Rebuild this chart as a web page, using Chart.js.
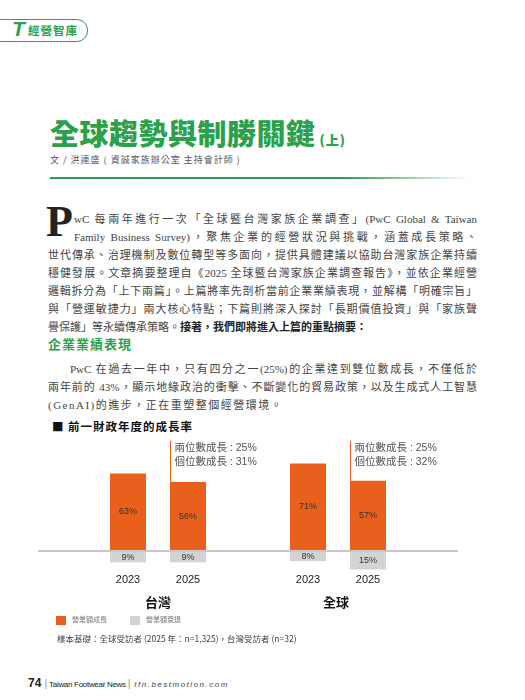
<!DOCTYPE html>
<html><head><meta charset="utf-8">
<script src="https://cdn.jsdelivr.net/npm/chart.js@4"></script>
<style>
body{margin:0;width:525px;height:700px;position:relative;background:#fff;font-family:"Noto Sans CJK TC","Noto Sans",sans-serif;overflow:hidden}
.a{position:absolute;white-space:nowrap}
.ln{position:absolute;left:48px;width:429px;font-size:11px;color:#444;text-align:justify;text-align-last:justify;letter-spacing:0;line-height:18px;font-family:"Liberation Serif","Noto Sans CJK TC",serif}
</style></head><body>
<div class="a" style="left:-10px;top:19px;width:96px;height:21px;border:1.5px solid #2aa14a;border-radius:11px;"></div>
<div class="a" style="left:12px;top:17px;font-size:21px;font-weight:900;color:#2aa14a;font-style:italic;font-family:'Liberation Sans'">T</div>
<div class="a" style="left:28px;top:22px;font-size:11.5px;font-weight:bold;color:#2aa14a;letter-spacing:1px">經營智庫</div>
<div class="a" style="left:50px;top:111px;font-size:29px;font-weight:900;color:#2aa14a;letter-spacing:0.5px">全球趨勢與制勝關鍵<span style="font-size:13px;letter-spacing:1px"> (上)</span></div>
<div class="a" style="left:50px;top:153px;font-size:9px;color:#555;letter-spacing:1px">文 / 洪連盛 ( 資誠家族辦公室 主持會計師 )</div>
<div class="a" style="left:50px;top:177px;width:420px;height:2px;background:linear-gradient(90deg,#2aa14a 70%,#fff)"></div>
<div class="a" style="left:46px;top:196px;font-size:44px;font-weight:bold;color:#222;font-family:'Liberation Serif'">P</div>
<div class="ln" style="top:210px;left:74px;width:403px">wC 每兩年進行一次「全球暨台灣家族企業調查」(PwC Global &amp; Taiwan</div>
<div class="ln" style="top:228px;left:74px;width:403px">Family Business Survey)，聚焦企業的經營狀況與挑戰，涵蓋成長策略、</div>
<div class="ln" style="top:246px">世代傳承、治理機制及數位轉型等多面向，提供具體建議以協助台灣家族企業持續</div>
<div class="ln" style="top:264px">穩健發展。文章摘要整理自《2025 全球暨台灣家族企業調查報告》，並依企業經營</div>
<div class="ln" style="top:282px">邏輯拆分為「上下兩篇」。上篇將率先剖析當前企業業績表現，並解構「明確宗旨」</div>
<div class="ln" style="top:300px">與「營運敏捷力」兩大核心特點；下篇則將深入探討「長期價值投資」與「家族聲</div>
<div class="ln" style="top:318px;text-align-last:left">譽保護」等永續傳承策略。<b style="color:#222">接著，我們即將進入上篇的重點摘要：</b></div>
<div class="a" style="left:48px;top:334px;font-size:13px;font-weight:bold;color:#2aa14a;letter-spacing:1px">企業業績表現</div>
<div class="ln" style="top:360px;left:70px;width:407px">PwC 在過去一年中，只有四分之一(25%)的企業達到雙位數成長，不僅低於</div>
<div class="ln" style="top:378px">兩年前的 43%，顯示地緣政治的衝擊、不斷變化的貿易政策，以及生成式人工智慧</div>
<div class="ln" style="top:396px;text-align-last:left;letter-spacing:1.5px">(GenAI)的進步，正在重塑整個經營環境。</div>
<div class="a" style="left:52px;top:418px;font-size:11.5px;font-weight:bold;color:#111;letter-spacing:1px">■ 前一財政年度的成長率</div>
<div class="a" style="left:38px;top:434px;width:420px;height:170px"><canvas id="c"></canvas></div>
<div class="a" style="left:145px;top:592px;font-size:13px;font-weight:bold;color:#111">台灣</div>
<div class="a" style="left:323px;top:592px;font-size:13px;font-weight:bold;color:#111">全球</div>
<div class="a" style="left:56px;top:616px;width:10px;height:9px;background:#e8601c"></div>
<div class="a" style="left:72px;top:614px;font-size:7px;color:#777">營業額成長</div>
<div class="a" style="left:130px;top:616px;width:10px;height:9px;background:#d3d3d3"></div>
<div class="a" style="left:146px;top:614px;font-size:7px;color:#777">營業額衰退</div>
<div class="a" style="left:57px;top:632px;font-size:8.5px;color:#444">樣本基礎：全球受訪者 (2025 年：n=1,325)，台灣受訪者 (n=32)</div>
<div class="a" style="left:28px;top:676px;font-size:11px;color:#222;font-family:'Liberation Sans'"><b style="font-size:12px">74</b> <span style="color:#999">|</span><span style="font-size:8px;letter-spacing:-0.3px"> Taiwan Footwear News </span><span style="color:#999">|</span><i style="font-size:8px;letter-spacing:1.5px;color:#444"> tfn.bestmotion.com</i></div>
<script>
const categories=['','2023','2025','','2023','2025',''];
const growth=[null,63,56,null,71,57,null];
const decline=[null,-9,-9,null,-8,-15,null];
const notes={2:['兩位數成長 : 25%','個位數成長 : 31%'],5:['兩位數成長 : 25%','個位數成長 : 32%']};
const valPlugin={id:'v',afterDatasetsDraw(ch){const c=ch.ctx;c.save();c.font='9px "Liberation Sans"';c.fillStyle='#333';c.textAlign='center';c.textBaseline='middle';
ch.data.datasets.forEach((ds,di)=>{ch.getDatasetMeta(di).data.forEach((b,i)=>{const v=ds.data[i];if(v==null)return;c.fillText(Math.abs(v)+'%',b.x,(b.y+b.base)/2);});});
const xs=ch.scales.x,y0=ch.scales.y.getPixelForValue(0);c.font='11px "Liberation Sans"';c.fillStyle='#222';
categories.forEach((l,i)=>{if(l)c.fillText(l,xs.getPixelForValue(i),y0+29);});
const m=ch.getDatasetMeta(0);Object.keys(notes).forEach(k=>{const b=m.data[k];const x=b.x-b.width/2+0.5;c.strokeStyle='#e8601c';c.lineWidth=1;c.beginPath();c.moveTo(x,b.y);c.lineTo(x,ch.chartArea.top+7);c.stroke();
c.fillStyle='#555';c.font='10.5px "Liberation Sans","Noto Sans CJK TC"';c.textAlign='left';c.fillText(notes[k][0],x+4,ch.chartArea.top+14);c.fillText(notes[k][1],x+4,ch.chartArea.top+28);});c.restore();}};
new Chart(document.getElementById('c'),{type:'bar',plugins:[valPlugin],
data:{labels:categories,datasets:[{data:growth,backgroundColor:'#e8601c'},{data:decline,backgroundColor:'#d3d3d3'}]},
options:{responsive:true,maintainAspectRatio:false,animation:false,barPercentage:0.6,categoryPercentage:1,
layout:{padding:{bottom:24}},
plugins:{legend:{display:false},tooltip:{enabled:false}},
scales:{x:{stacked:true,grid:{display:false},border:{display:false},ticks:{display:false}},
y:{stacked:true,min:-17,max:95,display:true,ticks:{display:false},border:{display:false},grid:{drawTicks:false,color:c=>c.tick.value===0?'#c8c8c8':'transparent',lineWidth:2}}}}});
</script></body></html>
